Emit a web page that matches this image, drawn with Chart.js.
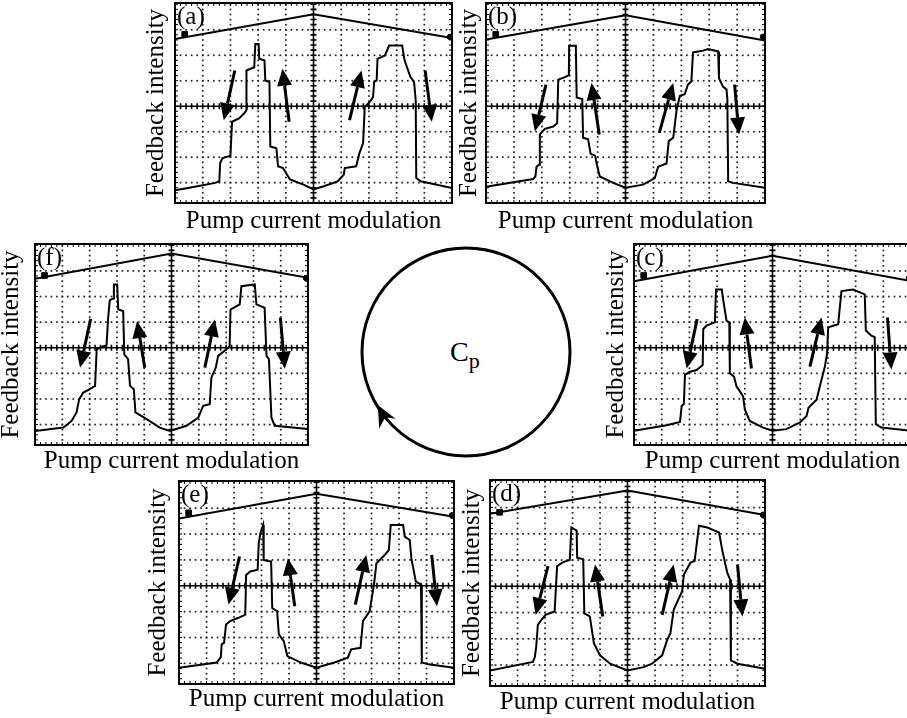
<!DOCTYPE html>
<html>
<head>
<meta charset="utf-8">
<script src="https://cdn.jsdelivr.net/npm/chart.js@4.4.1/dist/chart.umd.min.js"></script>
<style>
  html, body { margin: 0; padding: 0; background: #fff; overflow: hidden; }
  body { position: relative; width: 907px; height: 718px; }
  canvas { position: absolute; }
  svg { position: absolute; left: 0; top: 0; }
</style>
</head>
<body>
<svg width="907" height="718">
  <circle cx="466" cy="352" r="104" fill="none" stroke="#000" stroke-width="3"/>
  <polygon points="377.8,405.1 395.5,418.8 385.2,417.3 379.2,428.6" fill="#000"/>
  <text x="450" y="361" font-family="Liberation Serif" font-size="28">C<tspan font-size="22" dy="7">p</tspan></text>
</svg>
<script>
// scope screen: 10 x 8 divisions, values in divisions
const xMin = 0, xMax = 10, yMin = 0.2, yMax = 8.05;
const divX = [1, 2, 3, 4, 6, 7, 8, 9];
const divY = [1, 2, 3, 5, 6, 7];
const centerX = 5, centerY = 4;
const minorStep = 0.2;

const yTitle = "Feedback intensity";
const xTitle = "Pump current modulation";

// recorded traces, [x, y] in divisions
const traceA = [[0,0.7],[0.47,0.79],[1.45,0.99],[1.6,1.05],[1.63,1.77],[1.72,1.96],[2.0,2.05],[2.06,3.39],[2.31,3.52],[2.49,3.71],[2.58,3.84],[2.58,5.4],[2.86,5.53],[2.9,6.44],[3.02,6.44],[3.04,5.86],[3.23,5.79],[3.26,5.01],[3.41,4.95],[3.44,2.42],[3.66,2.35],[3.72,1.64],[3.9,1.57],[4.15,1.12],[4.64,0.92],[5.0,0.73],[5.37,0.86],[5.87,1.05],[6.09,1.31],[6.13,1.57],[6.54,1.64],[6.66,2.16],[6.79,2.55],[6.85,3.97],[7.03,4.17],[7.15,4.36],[7.19,4.95],[7.28,5.01],[7.31,5.86],[7.58,5.99],[7.73,6.38],[8.2,6.38],[8.29,5.79],[8.5,5.14],[8.63,4.95],[8.69,4.23],[8.71,1.18],[8.87,1.05],[10,0.79]];
const traceB = [[0,0.84],[1.69,1.14],[1.77,1.24],[1.81,1.62],[1.9,1.7],[1.93,2.89],[2.11,3.11],[2.41,3.2],[2.55,3.33],[2.59,5.04],[2.83,5.14],[2.97,5.22],[2.98,6.37],[3.22,6.37],[3.25,4.34],[3.45,4.28],[3.48,2.76],[3.66,2.7],[3.75,2.13],[3.91,2.06],[3.99,1.62],[4.08,1.24],[4.56,0.99],[5.0,0.8],[5.63,0.92],[6.05,1.18],[6.17,1.62],[6.47,1.75],[6.55,2.63],[6.71,2.76],[6.83,3.84],[6.95,4.41],[7.12,4.47],[7.24,4.85],[7.36,4.97],[7.42,6.11],[7.78,6.18],[7.96,6.24],[8.32,6.15],[8.35,5.1],[8.5,4.76],[8.62,4.66],[8.65,4.28],[8.68,1.05],[8.86,0.99],[10,0.8]];
const traceC = [[0,0.76],[1.18,0.97],[1.66,1.1],[1.72,1.72],[1.8,1.8],[1.84,2.94],[2.02,3.06],[2.26,3.13],[2.48,3.32],[2.5,4.73],[2.62,4.86],[2.92,4.99],[2.96,6.27],[3.17,6.27],[3.22,5.88],[3.34,5.05],[3.44,5.0],[3.46,3.0],[3.61,2.87],[3.7,2.49],[3.94,2.1],[4.0,1.59],[4.18,1.14],[4.66,0.88],[5.0,0.76],[5.5,0.82],[5.99,1.08],[6.23,1.33],[6.3,1.65],[6.59,1.97],[6.71,2.49],[6.89,3.26],[6.97,3.77],[7.01,4.79],[7.19,4.86],[7.37,4.92],[7.49,6.21],[7.91,6.27],[8.33,6.08],[8.37,4.67],[8.57,4.47],[8.69,4.41],[8.73,1.01],[8.93,0.88],[10,0.76]];
const traceD = [[0,0.79],[1.56,1.12],[1.63,1.3],[1.68,1.69],[1.74,2.53],[1.87,2.72],[2.02,2.91],[2.35,3.04],[2.44,4.77],[2.66,4.92],[2.9,5.0],[2.96,6.24],[3.15,6.12],[3.17,5.09],[3.39,5.03],[3.43,2.97],[3.63,2.85],[3.78,1.82],[4.0,1.37],[4.37,1.05],[5.0,0.79],[5.59,0.92],[5.89,1.05],[6.26,1.37],[6.44,1.95],[6.56,2.21],[6.68,3.1],[6.87,3.55],[6.99,3.81],[7.05,4.45],[7.29,4.9],[7.44,4.96],[7.6,6.31],[7.9,6.24],[8.33,6.05],[8.45,5.35],[8.63,4.51],[8.73,4.26],[8.76,1.18],[9.0,1.05],[10,0.86]];
const traceE = [[0,0.83],[1.37,1.03],[1.52,1.24],[1.55,1.73],[1.64,1.8],[1.71,2.5],[1.86,2.63],[2.16,2.76],[2.41,2.88],[2.44,4.42],[2.59,4.55],[2.86,4.62],[2.9,5.64],[2.96,6.03],[3.06,6.35],[3.08,5.0],[3.23,4.96],[3.35,4.94],[3.39,3.14],[3.57,3.01],[3.63,2.12],[3.81,1.86],[3.94,1.28],[4.43,1.03],[5.0,0.83],[5.65,1.03],[6.14,1.22],[6.26,1.54],[6.6,1.6],[6.69,2.63],[6.93,3.01],[7.09,4.04],[7.18,4.87],[7.48,5.19],[7.63,5.38],[7.7,6.35],[8.15,6.35],[8.21,5.9],[8.39,5.77],[8.45,5.06],[8.61,4.17],[8.8,4.04],[8.83,1.03],[9.07,0.96],[10,0.83]];
const traceF = [[0,0.75],[1.04,0.88],[1.34,1.14],[1.52,1.47],[1.62,1.99],[1.77,2.25],[2.01,2.38],[2.2,2.51],[2.26,3.94],[2.5,4.06],[2.62,4.09],[2.68,5.17],[2.74,5.86],[2.87,5.92],[2.89,6.47],[3.01,6.47],[3.05,5.49],[3.23,5.43],[3.27,3.74],[3.41,3.55],[3.48,2.51],[3.62,2.38],[3.68,1.47],[4.09,1.21],[4.57,0.88],[4.94,0.75],[5.55,0.95],[5.98,1.27],[6.16,1.73],[6.4,1.79],[6.46,2.83],[6.62,3.22],[6.71,3.68],[7.01,3.94],[7.13,4.06],[7.16,5.49],[7.5,5.69],[7.56,6.4],[8.05,6.47],[8.11,5.69],[8.41,5.56],[8.48,3.68],[8.57,3.55],[8.66,1.27],[8.78,0.95],[10,0.82]];

// pump current ramp (upper trace)
const rampA = [[0,6.64],[5,7.61],[10,6.68]];
const rampB = [[0,6.62],[5,7.57],[10,6.58]];
const rampC = [[0,6.59],[5,7.59],[10,6.6]];
const rampD = [[0,6.76],[5,7.65],[10,6.72]];
const rampE = [[0,6.6],[5,7.56],[10,6.67]];
const rampF = [[0,6.69],[5,7.68],[10,6.73]];

// arrows: [tailX, tailY, headX, headY]
const arrowsA = [[2.16,5.4,1.76,3.45],[4.12,3.39,3.88,5.47],[6.3,3.45,6.73,5.4],[9.03,5.4,9.27,3.39]];
const arrowsB = [[2.15,4.85,1.75,3.01],[4.06,2.89,3.78,4.91],[6.21,2.95,6.71,4.91],[8.91,4.85,9.07,2.89]];
const arrowsC = [[2.28,5.12,1.9,3.19],[4.24,3.19,4.0,5.18],[6.35,3.26,6.77,5.18],[9.15,5.18,9.29,3.15]];
const arrowsD = [[2.11,4.77,1.66,2.91],[4.1,2.85,3.82,4.83],[6.26,2.91,6.68,4.83],[9.0,4.83,9.18,2.85]];
const arrowsE = [[2.2,5.13,1.8,3.27],[4.21,3.21,3.96,5.06],[6.41,3.27,6.81,5.19],[9.19,5.19,9.38,3.21]];
const arrowsF = [[2.04,5.13,1.65,3.22],[4.02,3.22,3.74,5.04],[6.22,3.22,6.59,5.1],[8.99,5.17,9.15,3.18]];

// scope markers on the ramp
const squareMark = [[0.35,6.82]];
const endMark = [[9.93,6.72]];

// where each screen sits on the page: [left, top, right, bottom], then title paddings
const panels = [
  { label: "(a)", box: [175, 3, 452, 203], trace: traceA, ramp: rampA, arrows: arrowsA, padX: 3, padY: 4 },
  { label: "(b)", box: [486, 3, 765, 203], trace: traceB, ramp: rampB, arrows: arrowsB, padX: 3, padY: 2 },
  { label: "(f)", box: [35, 244, 308, 445], trace: traceF, ramp: rampF, arrows: arrowsF, padX: 1, padY: 9 },
  { label: "(c)", box: [634, 244, 911, 445], trace: traceC, ramp: rampC, arrows: arrowsC, padX: 1, padY: 3 },
  { label: "(e)", box: [179, 481, 454, 684], trace: traceE, ramp: rampE, arrows: arrowsE, padX: 0, padY: 6 },
  { label: "(d)", box: [490, 480, 765, 686], trace: traceD, ramp: rampD, arrows: arrowsD, padX: 1, padY: 3 }
];

Chart.defaults.font.family = "Liberation Serif";
Chart.defaults.color = "#000";

function toPoints(list) {
  return list.map(p => ({ x: p[0], y: p[1] }));
}

function drawArrow(ctx, x1, y1, x2, y2) {
  const ang = Math.atan2(y2 - y1, x2 - x1);
  const len = 17, half = 7.5;
  const bx = x2 - Math.cos(ang) * len, by = y2 - Math.sin(ang) * len;
  ctx.beginPath();
  ctx.moveTo(x1, y1);
  ctx.lineTo(bx, by);
  ctx.lineWidth = 3;
  ctx.stroke();
  ctx.beginPath();
  ctx.moveTo(x2, y2);
  ctx.lineTo(bx - Math.sin(ang) * half, by + Math.cos(ang) * half);
  ctx.lineTo(bx + Math.sin(ang) * half, by - Math.cos(ang) * half);
  ctx.closePath();
  ctx.fill();
}

// oscilloscope graticule, arrows and panel letter
const scopePlugin = {
  id: "scope",
  beforeDatasetsDraw(chart) {
    const { ctx, chartArea: ca, scales: { x, y } } = chart;
    ctx.save();
    ctx.fillStyle = "#222";
    // dotted division lines
    divX.forEach(v => {
      const px = x.getPixelForValue(v);
      for (let k = 1; k * minorStep < yMax; k++) {
        const py = y.getPixelForValue(k * minorStep);
        ctx.fillRect(px - 0.8, py - 0.8, 1.7, 1.7);
      }
    });
    divY.forEach(v => {
      const py = y.getPixelForValue(v);
      for (let k = 1; k * minorStep < xMax; k++) {
        const px = x.getPixelForValue(k * minorStep);
        ctx.fillRect(px - 0.8, py - 0.8, 1.7, 1.7);
      }
    });
    // centre cross with small ticks
    ctx.strokeStyle = "#000";
    ctx.lineWidth = 1.6;
    const cx = x.getPixelForValue(centerX), cy = y.getPixelForValue(centerY);
    ctx.beginPath();
    ctx.moveTo(cx, ca.top); ctx.lineTo(cx, ca.bottom);
    ctx.moveTo(ca.left, cy); ctx.lineTo(ca.right, cy);
    for (let k = 1; k * minorStep < yMax; k++) {
      const py = y.getPixelForValue(k * minorStep);
      ctx.moveTo(cx - 3, py); ctx.lineTo(cx + 3, py);
    }
    for (let k = 1; k * minorStep < xMax; k++) {
      const px = x.getPixelForValue(k * minorStep);
      ctx.moveTo(px, cy - 3); ctx.lineTo(px, cy + 3);
    }
    ctx.stroke();
    // frame ticks
    ctx.lineWidth = 1;
    ctx.beginPath();
    for (let k = 1; k * minorStep < xMax; k++) {
      const px = x.getPixelForValue(k * minorStep);
      ctx.moveTo(px, ca.top); ctx.lineTo(px, ca.top + 3);
      ctx.moveTo(px, ca.bottom); ctx.lineTo(px, ca.bottom - 3);
    }
    for (let k = 1; k * minorStep < yMax; k++) {
      const py = y.getPixelForValue(k * minorStep);
      ctx.moveTo(ca.left, py); ctx.lineTo(ca.left + 3, py);
      ctx.moveTo(ca.right, py); ctx.lineTo(ca.right - 3, py);
    }
    ctx.stroke();
    ctx.restore();
  },
  afterDatasetsDraw(chart, args, opts) {
    const { ctx, chartArea: ca, scales: { x, y } } = chart;
    ctx.save();
    ctx.strokeStyle = "#000";
    ctx.fillStyle = "#000";
    (opts.arrows || []).forEach(a => {
      drawArrow(ctx, x.getPixelForValue(a[0]), y.getPixelForValue(a[1]),
        x.getPixelForValue(a[2]), y.getPixelForValue(a[3]));
    });
    ctx.lineWidth = 2;
    ctx.strokeRect(ca.left, ca.top, ca.right - ca.left, ca.bottom - ca.top);
    ctx.font = '25px "Liberation Serif"';
    ctx.textBaseline = "alphabetic";
    ctx.fillText(opts.label || "", ca.left + 2, ca.top + 21);
    ctx.restore();
  }
};

function makeConfig(p) {
  return {
    type: "line",
    data: {
      datasets: [
        { data: toPoints(p.trace), borderColor: "#000", borderWidth: 2, pointRadius: 0, tension: 0 },
        { data: toPoints(p.ramp), borderColor: "#000", borderWidth: 2, pointRadius: 0, tension: 0 },
        { data: toPoints(squareMark), showLine: false, pointStyle: "rect", pointRadius: 4, backgroundColor: "#000", borderColor: "#000" },
        { data: toPoints(endMark), showLine: false, pointStyle: "circle", pointRadius: 2.8, backgroundColor: "#000", borderColor: "#000" }
      ]
    },
    options: {
      responsive: false,
      maintainAspectRatio: false,
      animation: false,
      layout: { padding: 3 },
      plugins: {
        legend: { display: false },
        tooltip: { enabled: false },
        scope: { label: p.label, arrows: p.arrows }
      },
      scales: {
        x: {
          type: "linear", min: xMin, max: xMax,
          ticks: { display: false },
          grid: { display: false, drawTicks: false },
          border: { display: false },
          title: { display: true, text: xTitle, font: { size: 25 }, color: "#000", padding: { top: p.padX, bottom: 0 } }
        },
        y: {
          type: "linear", min: yMin, max: yMax,
          ticks: { display: false },
          grid: { display: false, drawTicks: false },
          border: { display: false },
          title: { display: true, text: yTitle, font: { size: 25 }, color: "#000", padding: { top: 0, bottom: p.padY } }
        }
      }
    },
    plugins: [scopePlugin]
  };
}

function makeCanvas(w, h) {
  const c = document.createElement("canvas");
  c.width = w;
  c.height = h;
  document.body.appendChild(c);
  return c;
}

panels.forEach(p => {
  const w = p.box[2] - p.box[0], h = p.box[3] - p.box[1];
  let cw = w + 50, ch = h + 45;
  let canvas = makeCanvas(cw, ch);
  let chart = new Chart(canvas, makeConfig(p));
  let area = chart.chartArea;
  cw += w - (area.right - area.left);
  ch += h - (area.bottom - area.top);
  chart.destroy();
  canvas.remove();

  canvas = makeCanvas(cw, ch);
  chart = new Chart(canvas, makeConfig(p));
  area = chart.chartArea;
  canvas.style.left = (p.box[0] - area.left) + "px";
  canvas.style.top = (p.box[1] - area.top) + "px";
});
</script>
</body>
</html>
